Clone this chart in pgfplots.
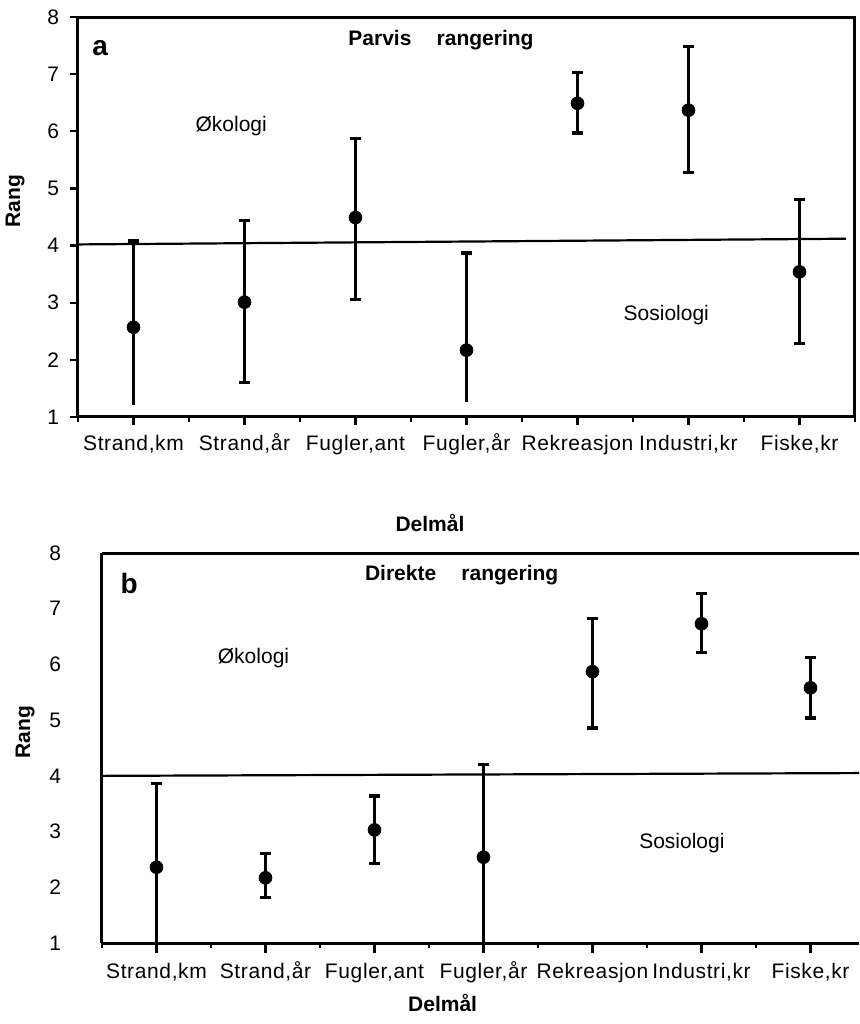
\documentclass[border=0pt]{standalone}
\usepackage{fontspec}
\setmainfont{Liberation Sans}
\newfontfamily\tickfont{Liberation Sans}[LetterSpace=3]
\usepackage{pgfplots}
\usepackage{pgfplotstable}
\pgfplotsset{compat=1.18}
\pgfplotstableread{
x y lo hi
0 2.57 1.21 4.08
1 3.01 1.61 4.44
2 4.49 3.06 5.88
3 2.17 1.26 3.87
4 6.49 5.97 7.03
5 6.37 5.28 7.49
6 3.54 2.28 4.81
}\dataA
\pgfplotstableread{
x y lo hi
0 2.36 1.00 3.87
1 2.17 1.81 2.60
2 3.03 2.42 3.64
3 2.54 1.00 4.20
4 5.87 4.86 6.82
5 6.73 6.22 7.27
6 5.58 5.04 6.12
}\dataB
\pgfplotsset{
  common/.style={
    scale only axis, anchor=north west, clip=false,
    xmin=-0.5, ymin=1, ymax=8,
    ytick={1,...,8},
    xtick={0,...,6},
    minor xtick={-0.5,0.5,...,6.5},
    xticklabels={{Strand,km},{Strand,år},{Fugler,ant},{Fugler,år},{Rekreasjon},{Industri,kr},{Fiske,kr}},
    tick align=outside, xtick pos=bottom, ytick pos=left,
    major tick length=5pt, minor tick length=2.5pt,
    axis line style={line width=1.5pt},
    every tick/.style={black, line width=1.2pt},
    /pgf/number format/assume math mode=true,
    tick label style={font=\fontsize{10.5}{12}\selectfont},
    xticklabel style={font=\tickfont\fontsize{10.5}{12}\selectfont, anchor=north, text height=1.6ex, text depth=0.3ex, yshift=-1pt},
    label style={font=\bfseries\fontsize{10.5}{12}\selectfont},
    xlabel={Delmål}, ylabel={Rang},
  },
  ebar/.style={only marks, black, mark=none,
    error bars/y dir=#1, error bars/y explicit,
    error bars/error bar style={line width=1.6pt},
    error bars/error mark options={line width=1.6pt, mark size=2.75pt, rotate=90}},
  ebarnocap/.style={only marks, black, mark=none,
    error bars/y dir=minus, error bars/y explicit,
    error bars/error bar style={line width=1.6pt}, error bars/error mark=none},
}
\begin{document}
\begin{tikzpicture}
\useasboundingbox (0,0) rectangle (429.5pt,-512pt);
% ---------- panel a ----------
\begin{axis}[common, at={(39pt,-8.5pt)}, width=388.5pt, height=200pt, xmax=6.5,
  major tick length=4pt,
  yticklabel style={xshift=-2pt},
  xlabel style={at={(axis description cs:0.453,-0.265)}, anchor=center},
  ylabel style={at={(axis description cs:-0.081,0.54)}, anchor=center}]
\draw[line width=1.1pt] (axis cs:-0.5,4.02) -- (axis cs:6.42,4.12);
\addplot[ebar=plus] table[x=x, y=y, y error plus expr=\thisrow{hi}-\thisrow{y}] {\dataA};
\addplot[skip coords between index={0}{1}, skip coords between index={3}{4}, ebar=minus]
  table[x=x, y=y, y error minus expr=\thisrow{y}-\thisrow{lo}] {\dataA};
\addplot[skip coords between index={1}{3}, skip coords between index={4}{7}, ebarnocap]
  table[x=x, y=y, y error minus expr=\thisrow{y}-\thisrow{lo}] {\dataA};
\addplot[only marks, mark=*, mark size=3.2pt, black] table[x=x, y=y] {\dataA};
\node[font=\bfseries\fontsize{14}{16}\selectfont] at (axis cs:-0.3,7.45) {a};
\node[font=\bfseries\fontsize{10.5}{12}\selectfont] at (axis cs:2.77,7.6) {Parvis\hspace{1.2em}rangering};
\node[font=\fontsize{10.5}{12}\selectfont] at (axis cs:0.88,6.1) {Økologi};
\node[font=\fontsize{10.5}{12}\selectfont] at (axis cs:4.8,2.78) {Sosiologi};
\end{axis}
% ---------- panel b ----------
\begin{axis}[common, at={(51pt,-276.5pt)}, width=378.5pt, height=195pt, xmax=6.445,
  axis x line*=box, axis y line*=left,
  ytick style={draw=none},
  yticklabel style={xshift=-12pt},
  xlabel style={at={(axis description cs:0.45,-0.154)}, anchor=center},
  ylabel style={at={(axis description cs:-0.1017,0.54)}, anchor=center}]
\draw[line width=1.1pt] (axis cs:-0.5,4.0) -- (axis cs:6.445,4.05);
\addplot[ebar=plus] table[x=x, y=y, y error plus expr=\thisrow{hi}-\thisrow{y}] {\dataB};
\addplot[skip coords between index={0}{1}, skip coords between index={3}{4}, ebar=minus]
  table[x=x, y=y, y error minus expr=\thisrow{y}-\thisrow{lo}] {\dataB};
\addplot[skip coords between index={1}{3}, skip coords between index={4}{7}, ebarnocap]
  table[x=x, y=y, y error minus expr=\thisrow{y}-\thisrow{lo}] {\dataB};
\addplot[only marks, mark=*, mark size=3.2pt, black] table[x=x, y=y] {\dataB};
\node[font=\bfseries\fontsize{14}{16}\selectfont] at (axis cs:-0.25,7.46) {b};
\node[font=\bfseries\fontsize{10.5}{12}\selectfont] at (axis cs:2.8,7.6) {Direkte\hspace{1.2em}rangering};
\node[font=\fontsize{10.5}{12}\selectfont] at (axis cs:0.89,6.12) {Økologi};
\node[font=\fontsize{10.5}{12}\selectfont] at (axis cs:4.82,2.8) {Sosiologi};
\end{axis}
\end{tikzpicture}
\end{document}
